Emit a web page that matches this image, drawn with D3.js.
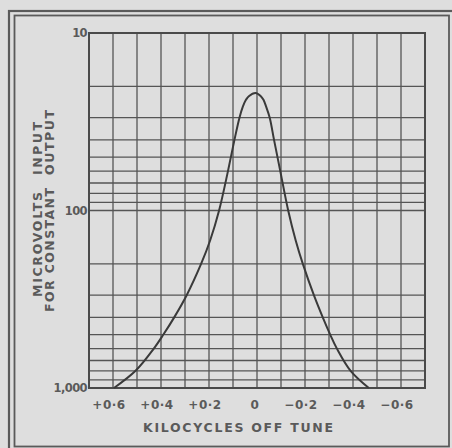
<!DOCTYPE html>
<html>
<head>
<meta charset="utf-8">
<script src="https://cdn.jsdelivr.net/npm/d3@7"></script>
<style>
  body { margin: 0; background: #dedede; }
  svg { display: block; }
  text { font-family: "DejaVu Sans", sans-serif; font-weight: bold; fill: #5a5a5a; }
</style>
</head>
<body>
<div class="chart"></div>
<script>
// Data (kc off tune, microvolts).
const offTune = [0.596, 0.506, 0.43, 0.39, 0.345, 0.293, 0.233, 0.195, 0.158, 0.121, 0.094, 0.073,
  0.059, 0.046, 0.034, 0.006,
  -0.016, -0.027, -0.038, -0.053, -0.071, -0.097, -0.13, -0.161, -0.191, -0.237, -0.274,
  -0.305, -0.333, -0.39, -0.466];
const microvolts = [1000, 800, 600, 500, 400, 300, 200, 147, 100, 60, 40, 30,
  26, 23.8, 22.7, 21.8,
  22.7, 23.8, 26, 30, 40, 60, 100, 147, 200, 300, 400,
  500, 600, 800, 1000];

const xTicks = [0.6, 0.4, 0.2, 0, -0.2, -0.4, -0.6];
const xTickLabels = ["+0·6", "+0·4", "+0·2", "0", "\u22120·2", "\u22120·4", "\u22120·6"];
const yTicks = [10, 100, 1000];
const yTickLabels = ["10", "100", "1,000"];

const width = 452;
const height = 448;
const plot = { left: 89, right: 425, top: 33, bottom: 388 };

const svg = d3
  .select(".chart")
  .append("svg")
  .attr("width", width)
  .attr("height", height);

svg.append("rect").attr("width", width).attr("height", height).attr("fill", "#dedede");

// Double frame round the figure.
svg.append("rect")
  .attr("x", 9).attr("y", 11).attr("width", 470).attr("height", 470)
  .attr("fill", "none").attr("stroke", "#5a5a5a").attr("stroke-width", 2.2);
svg.append("rect")
  .attr("x", 14.5).attr("y", 15.5).attr("width", 434.5).attr("height", 431)
  .attr("fill", "none").attr("stroke", "#5a5a5a").attr("stroke-width", 1.8);

// Scales.
const xScale = d3.scaleLinear().domain([0.7, -0.7]).range([plot.left, plot.right]);
const yScale = d3.scaleLog().domain([10, 1000]).range([plot.top, plot.bottom]);

// Grid.
const grid = svg.append("g").attr("stroke", "#555").attr("stroke-width", 1.3);

grid.selectAll(".vline")
  .data(d3.range(-7, 8).map((d) => d / 10))
  .enter()
  .append("line")
  .attr("x1", (d) => xScale(d))
  .attr("x2", (d) => xScale(d))
  .attr("y1", plot.top)
  .attr("y2", plot.bottom);

grid.selectAll(".hline")
  .data(yScale.ticks())
  .enter()
  .append("line")
  .attr("x1", plot.left)
  .attr("x2", plot.right)
  .attr("y1", (d) => yScale(d))
  .attr("y2", (d) => yScale(d));

svg.append("rect")
  .attr("x", plot.left).attr("y", plot.top)
  .attr("width", plot.right - plot.left).attr("height", plot.bottom - plot.top)
  .attr("fill", "none").attr("stroke", "#4a4a4a").attr("stroke-width", 2);

// Curve.
const points = offTune.map((d, i) => ({ kc: d, uv: microvolts[i] }));
const lineGen = d3
  .line()
  .x((d) => xScale(d.kc))
  .y((d) => yScale(d.uv))
  .curve(d3.curveCatmullRom.alpha(0.5));

svg.append("path")
  .attr("d", lineGen(points))
  .attr("fill", "none")
  .attr("stroke", "#3a3a3a")
  .attr("stroke-width", 2);

// Tick labels.
svg.selectAll(".xlabel")
  .data(xTicks)
  .enter()
  .append("text")
  .attr("x", (d) => xScale(d) - (d === 0 ? 2 : 4))
  .attr("y", 408.5)
  .attr("text-anchor", "middle")
  .style("font-size", "12px")
  .style("letter-spacing", "0.5px")
  .text((d, i) => xTickLabels[i]);

svg.selectAll(".ylabel")
  .data(yTicks)
  .enter()
  .append("text")
  .attr("x", plot.left - 2)
  .attr("y", (d) => yScale(d))
  .attr("dy", "0.36em")
  .attr("text-anchor", "end")
  .style("font-size", "11.5px")
  .style("letter-spacing", "-0.6px")
  .text((d, i) => yTickLabels[i]);

// Axis titles.
svg.append("text")
  .attr("x", 143)
  .attr("y", 431.5)
  .attr("textLength", 190)
  .attr("lengthAdjust", "spacing")
  .style("font-size", "12.5px")
  .text("KILOCYCLES OFF TUNE");

const yTitle = [
  { text: "MICROVOLTS", x: 37, y: 297, len: 105 },
  { text: "INPUT", x: 37, y: 175, len: 53 },
  { text: "FOR CONSTANT", x: 49, y: 312, len: 124 },
  { text: "OUTPUT", x: 49, y: 175, len: 65 },
];

svg.selectAll(".ytitle")
  .data(yTitle)
  .enter()
  .append("text")
  .attr("transform", (d) => `translate(${d.x}, ${d.y}) rotate(-90)`)
  .attr("dy", "0.36em")
  .attr("textLength", (d) => d.len)
  .attr("lengthAdjust", "spacing")
  .style("font-size", "12.5px")
  .text((d) => d.text);
</script>
</body>
</html>
